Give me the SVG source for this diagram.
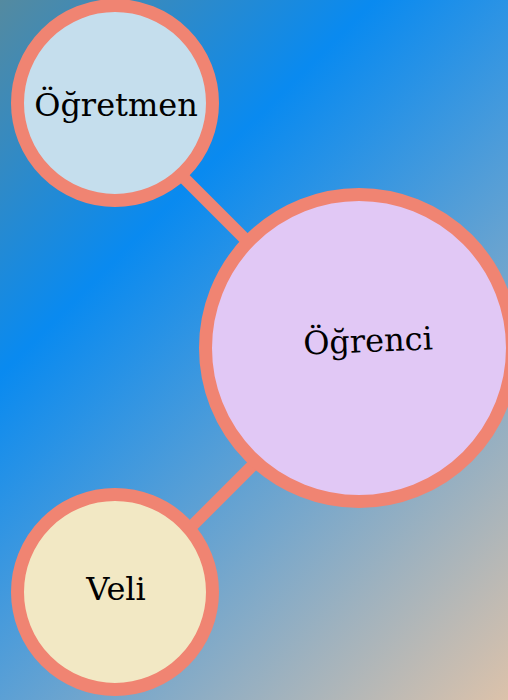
<svg xmlns="http://www.w3.org/2000/svg" width="508" height="700" viewBox="0 0 508 700">
<defs>
<linearGradient id="bg" gradientUnits="userSpaceOnUse" x1="0" y1="0" x2="604" y2="604">
<stop offset="0" stop-color="#548aa0"/>
<stop offset="0.31" stop-color="#098af0"/>
<stop offset="1" stop-color="#dcc2aa"/>
</linearGradient>
<style>
.edge{stroke:#f08472;stroke-width:12;fill:none}
.node circle{stroke:#f08472;stroke-width:13}
.node text{font-family:"DejaVu Serif",serif;font-size:32px;fill:#000;text-anchor:middle}
</style>
</defs>
<rect width="508" height="700" fill="url(#bg)"/>
<g id="connectors">
<line class="edge" x1="115" y1="109" x2="359" y2="353"/>
<line class="edge" x1="115" y1="603" x2="359" y2="359"/>
</g>
<g id="ogretmen" class="node">
<circle cx="115" cy="103" r="97.5" fill="#c5deed"/>
<text x="116" y="116">Öğretmen</text>
</g>
<g id="ogrenci" class="node">
<circle cx="359" cy="348" r="153.5" fill="#e1c8f5"/>
<text x="368" y="352" transform="rotate(-2.3 368 341)">Öğrenci</text>
</g>
<g id="veli" class="node">
<circle cx="115" cy="592" r="97.5" fill="#f2e8c4"/>
<text x="116" y="600">Veli</text>
</g>
</svg>
